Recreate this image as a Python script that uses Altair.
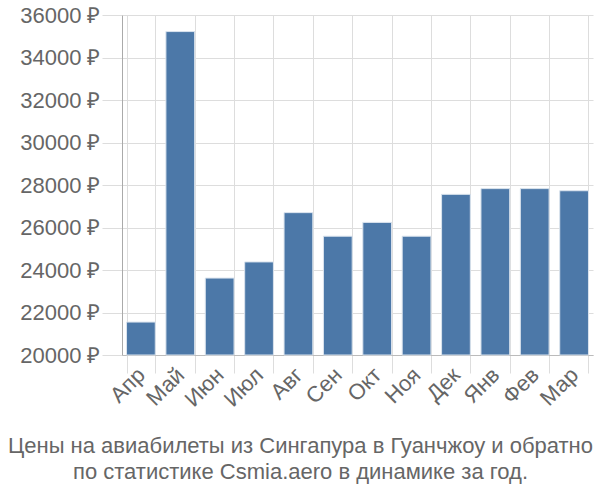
import altair as alt
import pandas as pd

months = ["Апр", "Май", "Июн", "Июл", "Авг", "Сен", "Окт", "Ноя", "Дек", "Янв", "Фев", "Мар"]
prices = [21550, 35220, 23620, 24380, 26700, 25590, 26240, 25590, 27560, 27830, 27830, 27730]
y_ticks = [20000, 22000, 24000, 26000, 28000, 30000, 32000, 34000, 36000]
title_lines = ["Цены на авиабилеты из Сингапура в Гуанчжоу и обратно",
               "по статистике Csmia.aero в динамике за год."]
base_value = 20000

df = pd.DataFrame({"month": months, "price": prices})

FONT = "Liberation Sans"
GRAY = "#666666"

chart = alt.Chart(df).mark_bar(
    color="#4c78a8", stroke="#dbe4ee", strokeWidth=1
).encode(
    x=alt.X("month:N", sort=months,
            scale=alt.Scale(paddingInner=0.27, paddingOuter=0.115),
            axis=alt.Axis(title=None, labelAngle=-45, labelAlign="right", labelBaseline="middle",
                          tickBand="extent", grid=True, gridColor="#dddddd", tickColor="#dddddd",
                          tickSize=18, labelPadding=-2, labelFontSize=22, labelFont=FONT,
                          labelColor=GRAY, domainColor="#bbbbbb")),
    y=alt.Y("price:Q", scale=alt.Scale(domain=[20000, 36000], nice=False, zero=False),
            axis=alt.Axis(title=None, values=y_ticks, labelExpr="format(datum.value, 'd') + ' ₽'",
                          gridColor="#dddddd", tickColor="#dddddd", tickSize=20, labelPadding=2,
                          labelFontSize=22, labelFont=FONT, labelColor=GRAY,
                          domainColor="#aaaaaa")),
    y2=alt.datum(base_value)
).properties(
    width=471, height=340,
    autosize=alt.AutoSizeParams(type="none"),
    padding={"left": 122, "top": 15, "right": 7, "bottom": 145},
    title=alt.TitleParams(text=title_lines, orient="bottom", anchor="middle", frame="group",
                          dx=-57, font=FONT, fontSize=22, fontWeight="normal", color=GRAY,
                          offset=26, lineHeight=26)
).configure_view(stroke=None)

chart.save("out.html", embed_options={"renderer": "svg", "actions": False})
